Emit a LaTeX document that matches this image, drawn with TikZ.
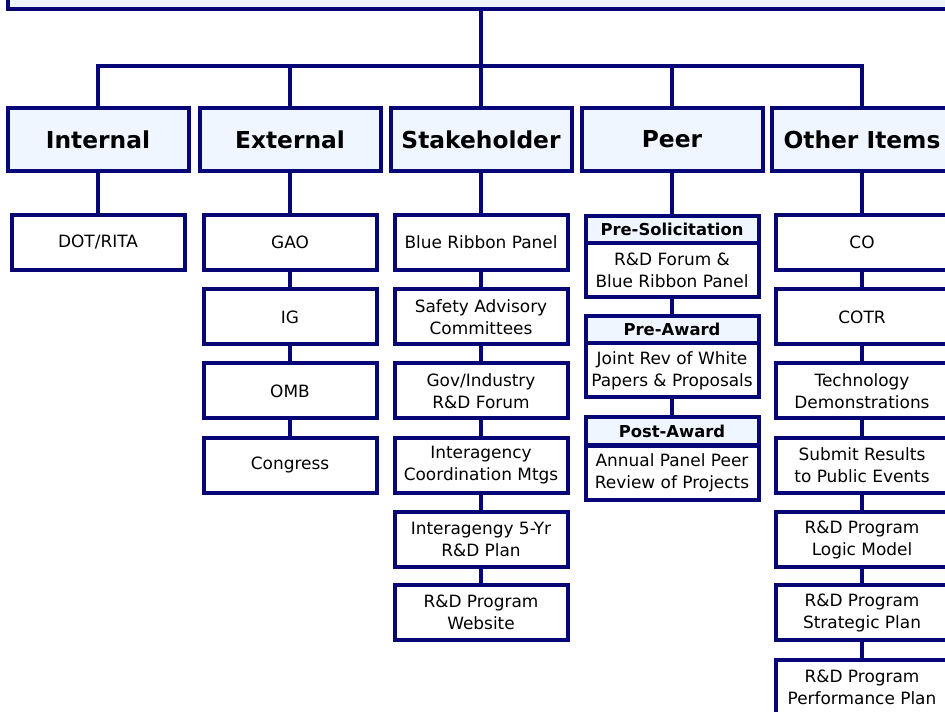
\documentclass[tikz,border=0pt]{standalone}
\usepackage{fontspec}
\setmainfont{DejaVu Sans}
\definecolor{navy}{RGB}{6,6,118}
\definecolor{paleblue}{RGB}{240,246,255}
\begin{document}
\begin{tikzpicture}[x=0.75pt,y=-0.75pt,
  box/.style={draw=navy, line width=3pt, fill=white, inner sep=0pt,
    minimum width=129.75pt, minimum height=41.25pt, align=center,
    font=\fontsize{12.7}{16.5}\selectfont},
  hdr/.style={box, fill=paleblue, minimum width=135.75pt, minimum height=47.25pt,
    font=\fontsize{17.5}{20}\selectfont\bfseries},
  phead/.style={box, fill=paleblue, minimum height=20.25pt,
    font=\fontsize{12.3}{13}\selectfont\bfseries},
  pbody/.style={box, minimum height=40.5pt},
  link/.style={draw=navy, line width=3pt}]
\useasboundingbox (0,0) rectangle (945,712);
\clip (0,0) rectangle (945,712);

% top box (text cropped away in the reference)
\node[box, fill=paleblue, minimum width=714.75pt, minimum height=30pt] (top) at (484,-10.5) {};

% headers
\node[hdr] (hInt) at (98,139.5) {Internal};
\node[hdr] (hExt) at (290,139.5) {External};
\node[hdr] (hStk) at (481,139.5) {Stakeholder};
\node[hdr] (hPeer) at (672,139.5) {Peer};
\node[hdr] (hOth) at (862,139.5) {Other Items};

\coordinate (bus) at (481,66);
\draw[link] (top.south -| bus) -- (bus);
\draw[link] (hInt.north) |- (bus) -| (hOth.north);
\draw[link] (hExt.north) -- (hExt.north |- bus);
\draw[link] (hStk.north) -- (hStk.north |- bus);
\draw[link] (hPeer.north) -- (hPeer.north |- bus);

% Internal
\node[box] (i1) at (98,242.5) {DOT/RITA};
\draw[link] (hInt.south) -- (i1.north);

% External
\node[box] (e1) at (290,242.5) {GAO};
\node[box] (e2) at (290,317) {IG};
\node[box] (e3) at (290,391) {OMB};
\node[box] (e4) at (290,465) {Congress};
\draw[link] (hExt.south) -- (e1.north);
\draw[link] (e1.south) -- (e2.north);
\draw[link] (e2.south) -- (e3.north);
\draw[link] (e3.south) -- (e4.north);

% Stakeholder
\node[box] (s1) at (481,242.5) {Blue Ribbon Panel};
\node[box] (s2) at (481,317) {Safety Advisory\\Committees};
\node[box] (s3) at (481,391) {Gov/Industry\\R\&D Forum};
\node[box] (s4) at (481,465) {Interagency\\Coordination Mtgs};
\node[box] (s5) at (481,539.5) {Interagengy 5-Yr\\R\&D Plan};
\node[box] (s6) at (481,612.5) {R\&D Program\\Website};
\draw[link] (hStk.south) -- (s1.north);
\draw[link] (s1.south) -- (s2.north);
\draw[link] (s2.south) -- (s3.north);
\draw[link] (s3.south) -- (s4.north);
\draw[link] (s4.south) -- (s5.north);
\draw[link] (s5.south) -- (s6.north);

% Peer
\node[pbody] (p1b) at (672,270) {R\&D Forum \&\\Blue Ribbon Panel};
\node[phead] (p1h) at (672,229.5) {Pre-Solicitation};
\node[pbody] (p2b) at (672,370.5) {Joint Rev of White\\Papers \& Proposals};
\node[phead] (p2h) at (672,329.5) {Pre-Award};
\node[pbody] (p3b) at (672,472.5) {Annual Panel Peer\\Review of Projects};
\node[phead] (p3h) at (672,431) {Post-Award};
\draw[link] (hPeer.south) -- (p1h.north);
\draw[link] (p1b.south) -- (p2h.north);
\draw[link] (p2b.south) -- (p3h.north);

% Other Items
\node[box] (o1) at (862,242.5) {CO};
\node[box] (o2) at (862,317) {COTR};
\node[box] (o3) at (862,391) {Technology\\Demonstrations};
\node[box] (o4) at (862,465) {Submit Results\\to Public Events};
\node[box] (o5) at (862,539.5) {R\&D Program\\Logic Model};
\node[box] (o6) at (862,612.5) {R\&D Program\\Strategic Plan};
\node[box] (o7) at (862,687.5) {R\&D Program\\Performance Plan};
\draw[link] (hOth.south) -- (o1.north);
\draw[link] (o1.south) -- (o2.north);
\draw[link] (o2.south) -- (o3.north);
\draw[link] (o3.south) -- (o4.north);
\draw[link] (o4.south) -- (o5.north);
\draw[link] (o5.south) -- (o6.north);
\draw[link] (o6.south) -- (o7.north);
\end{tikzpicture}
\end{document}
